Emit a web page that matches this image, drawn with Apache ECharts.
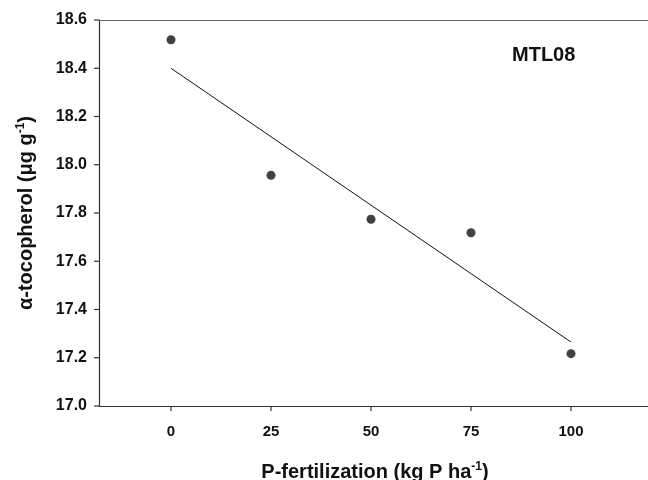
<!DOCTYPE html>
<html>
<head>
<meta charset="utf-8">
<script src="https://cdn.jsdelivr.net/npm/echarts@6/dist/echarts.min.js"></script>
<style>
  html, body { margin: 0; padding: 0; background: #fff; }
  #chart { width: 648px; height: 480px; }
</style>
</head>
<body>
<div id="chart"></div>
<script>
// P rate (kg P/ha) and measured alpha-tocopherol
var pRates = [0, 25, 50, 75, 100]
var tocopherol = [18.518, 17.956, 17.774, 17.718, 17.217]
// fitted line end points
var fitX = [0, 100]
var fitY = [18.40, 17.265]
var xTicks = [0, 25, 50, 75, 100]
var yTickVals = [17.0, 17.2, 17.4, 17.6, 17.8, 18.0, 18.2, 18.4, 18.6]
var yTicks = ['17.0', '17.2', '17.4', '17.6', '17.8', '18.0', '18.2', '18.4', '18.6']

var font = 'Liberation Sans, Arial, Helvetica, sans-serif'
var axisColor = '#333'
var textColor = '#111'
var supStyle = { fontFamily: font, fontWeight: 'bold', fontSize: 12, verticalAlign: 'top', padding: [0, 0, 10, 0], color: textColor }
var xMin = -18
var yMin = 17.0

var myChart = echarts.init(document.getElementById('chart'))

// tick marks drawn through the axes' scales
function tickSeries (vals, horizontal) {
  return {
    type: 'custom',
    silent: true,
    clip: false,
    xAxisIndex: 0,
    data: vals.map(function (v) { return [v] }),
    renderItem: function (params, api) {
      var v = api.value(0)
      var p = horizontal ? api.coord([v, yMin]) : api.coord([xMin, v])
      var shape = horizontal
        ? { x1: p[0], y1: p[1], x2: p[0], y2: p[1] + 5 }
        : { x1: p[0], y1: p[1], x2: p[0] - 5, y2: p[1] }
      return { type: 'line', shape: shape, style: { stroke: axisColor, lineWidth: 1.2 } }
    },
    z: 1
  }
}

myChart.setOption({
  backgroundColor: '#fff',
  animation: false,
  grid: { left: 99, top: 20, bottom: 74, right: -3, outerBoundsMode: 'none', containLabel: false },
  graphic: [{
    type: 'text',
    left: 512,
    top: 45,
    style: { text: 'MTL08', font: 'bold 20px ' + font, fill: textColor }
  }],
  xAxis: [{
    type: 'value',
    min: xMin,
    max: 120,
    axisLine: { show: true, onZero: false, lineStyle: { color: axisColor, width: 1.2 } },
    axisTick: { show: false },
    axisLabel: {
      margin: 18,
      fontFamily: font,
      fontWeight: 'bold',
      fontSize: 15,
      color: textColor,
      customValues: xTicks
    },
    splitLine: { show: false },
    name: 'P-fertilization (kg P ha{sup|-1})',
    nameLocation: 'middle',
    nameGap: 55,
    nameTextStyle: {
      fontFamily: font,
      fontWeight: 'bold',
      fontSize: 20,
      color: textColor,
      rich: { sup: supStyle }
    }
  }, {
    type: 'value',
    position: 'top',
    min: xMin,
    max: 120,
    axisLine: { show: true, onZero: false, lineStyle: { color: '#666', width: 1.2 } },
    axisTick: { show: false },
    axisLabel: { show: false },
    splitLine: { show: false }
  }],
  yAxis: {
    type: 'value',
    min: yMin,
    max: 18.6,
    interval: 0.2,
    axisLine: { show: true, onZero: false, lineStyle: { color: axisColor, width: 1.2 } },
    axisTick: { show: false },
    axisLabel: {
      margin: 12,
      fontFamily: font,
      fontWeight: 'bold',
      fontSize: 16,
      color: textColor,
      formatter: function (v) {
        var i = Math.round((v - 17.0) / 0.2)
        return yTicks[i]
      }
    },
    splitLine: { show: false },
    name: 'α-tocopherol (μg g{sup|-1})',
    nameLocation: 'middle',
    nameGap: 62,
    nameRotate: 90,
    nameTextStyle: {
      fontFamily: font,
      fontWeight: 'bold',
      fontSize: 20,
      color: textColor,
      rich: { sup: supStyle }
    }
  },
  series: [
    tickSeries(xTicks, true),
    tickSeries(yTickVals, false),
    {
      name: 'fit',
      type: 'line',
      xAxisIndex: 0,
      data: fitX.map(function (x, i) { return [x, fitY[i]] }),
      symbol: 'none',
      lineStyle: { color: '#111', width: 1 },
      z: 2
    }, {
      name: 'data',
      type: 'scatter',
      xAxisIndex: 0,
      data: pRates.map(function (x, i) { return [x, tocopherol[i]] }),
      symbol: 'circle',
      symbolSize: 9,
      itemStyle: { color: '#111' },
      z: 3
    }
  ]
})
</script>
</body>
</html>
